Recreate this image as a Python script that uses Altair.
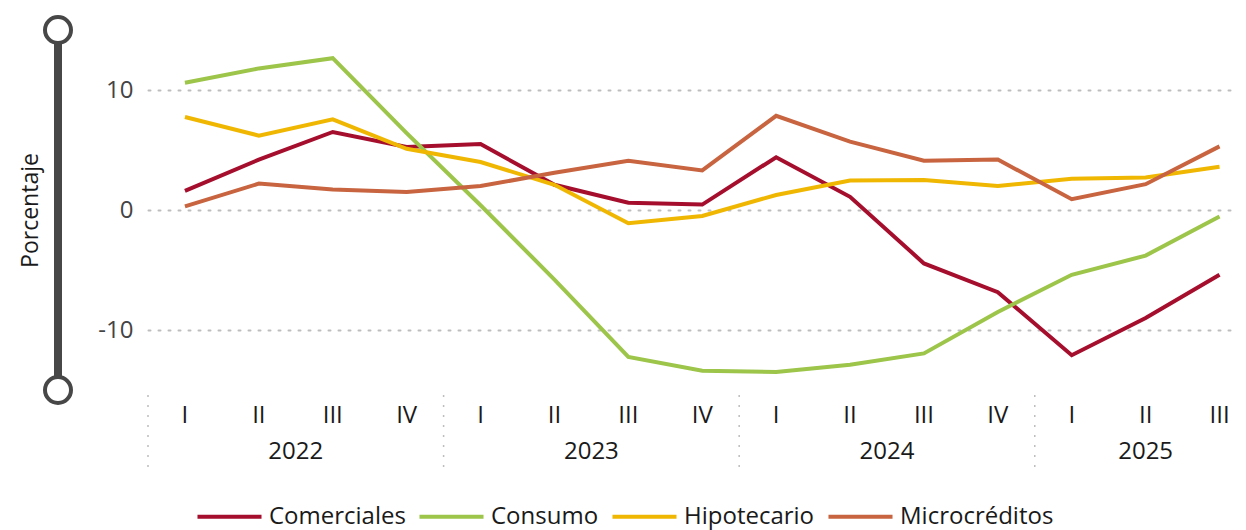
import altair as alt
import pandas as pd

quarters = ["I", "II", "III", "IV"] * 3 + ["I", "II", "III"]
years = ["2022"] * 4 + ["2023"] * 4 + ["2024"] * 4 + ["2025"] * 3
comerciales = [1.6, 4.2, 6.5, 5.25, 5.5, 2.1, 0.6, 0.45, 4.4, 1.1, -4.45, -6.85, -12.1, -9.0, -5.4]
consumo = [10.6, 11.8, 12.65, 6.4, 0.4, -5.8, -12.25, -13.4, -13.5, -12.9, -11.95, -8.5, -5.4, -3.8, -0.55]
hipotecario = [7.75, 6.2, 7.55, 5.1, 4.0, 2.1, -1.1, -0.5, 1.25, 2.45, 2.5, 2.0, 2.6, 2.7, 3.6]
microcreditos = [0.3, 2.2, 1.7, 1.5, 2.0, 3.1, 4.1, 3.3, 7.85, 5.7, 4.1, 4.2, 0.9, 2.15, 5.3]
series_names = ["Comerciales", "Consumo", "Hipotecario", "Microcréditos"]
series_colors = ["#A50E2D", "#9CC54A", "#F0B702", "#C8643F"]
year_labels = ["2022", "2023", "2024", "2025"]
year_centers = [1.5, 5.5, 9.5, 13.0]
year_separators = [-0.5, 3.5, 7.5, 11.5]
y_ticks = [-10, 0, 10]
y_limits = [-15, 15]

FONT = "Open Sans"

rows = []
for name, vals in zip(series_names, [comerciales, consumo, hipotecario, microcreditos]):
    for i, v in enumerate(vals):
        rows.append({"idx": i, "series": name, "value": v})
df = pd.DataFrame(rows)
df_q = pd.DataFrame({"idx": list(range(len(quarters))), "quarter": quarters})
df_y = pd.DataFrame({"idx": year_centers, "year": year_labels})
df_sep = pd.DataFrame({"idx": year_separators})
df_bar = pd.DataFrame({"value": [y_limits[1]], "value2": [y_limits[0]]})
df_ends = pd.DataFrame({"value": y_limits})

xscale = alt.Scale(domain=[-0.5, 14.25], nice=False, zero=False)
yscale = alt.Scale(domain=y_limits, nice=False, zero=False)
yaxis = alt.Axis(
    values=y_ticks, grid=True, gridDash=[2, 8], gridColor="#BDBDBD", gridWidth=2, gridCap="round",
    domain=False, ticks=False, labelFontSize=24, labelFont=FONT, labelColor="#444444",
    labelPadding=15, labelExpr="'' + datum.value",
    title="Porcentaje", titleFont=FONT, titleFontSize=23, titleFontWeight="normal",
    titleColor="#1a1a1a", titleX=-118, titleY=180, titleAngle=270, titleAlign="center",
    titleBaseline="middle",
)

lines = alt.Chart(df).mark_line(strokeWidth=4).encode(
    x=alt.X("idx:Q", scale=xscale, axis=None),
    y=alt.Y("value:Q", scale=yscale, axis=yaxis),
    color=alt.Color(
        "series:N",
        scale=alt.Scale(domain=series_names, range=series_colors),
        legend=alt.Legend(
            orient="none", legendX=47, legendY=452, direction="horizontal", columns=4,
            title=None, symbolType="stroke", symbolSize=4100, symbolStrokeWidth=4,
            labelFontSize=24, labelFont=FONT, labelColor="#1a1a1a", labelOffset=5,
            columnPadding=5,
        ),
    ),
)

qlabels = alt.Chart(df_q).mark_text(fontSize=24, font=FONT, color="#1a1a1a").encode(
    x=alt.X("idx:Q", scale=xscale, axis=None), y=alt.value(386), text="quarter:N"
)
ylabels = alt.Chart(df_y).mark_text(fontSize=24, font=FONT, color="#1a1a1a").encode(
    x=alt.X("idx:Q", scale=xscale, axis=None), y=alt.value(422), text="year:N"
)
seps = alt.Chart(df_sep).mark_rule(strokeDash=[2, 8], color="#BDBDBD", strokeWidth=1.5).encode(
    x=alt.X("idx:Q", scale=xscale, axis=None), y=alt.value(365), y2=alt.value(442)
)
bar = alt.Chart(df_bar).mark_rule(strokeWidth=8, color="#474747").encode(
    x=alt.value(-90), y=alt.Y("value:Q", scale=yscale, axis=yaxis), y2="value2:Q"
)
ends = alt.Chart(df_ends).mark_point(
    shape="circle", filled=True, fill="white", stroke="#474747", strokeWidth=4, size=676, opacity=1
).encode(x=alt.value(-90), y=alt.Y("value:Q", scale=yscale, axis=yaxis))

chart = alt.layer(lines, seps, qlabels, ylabels, bar, ends).properties(
    width=1090, height=360,
    autosize=alt.AutoSizeParams(type="none"),
    padding={"left": 140, "top": 22, "right": 0, "bottom": 140},
).configure_view(stroke=None)

chart.save("out.html", embed_options={"renderer": "svg", "actions": False})
